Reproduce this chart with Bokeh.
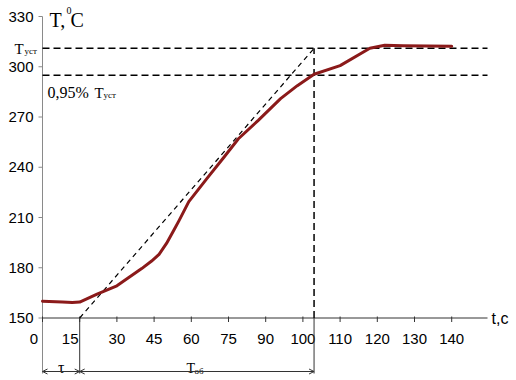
import numpy as np
from bokeh.plotting import figure
from bokeh.models import Range1d, Arrow, OpenHead, ColumnDataSource
from bokeh.core.properties import value
from bokeh.embed import file_html
from bokeh.resources import INLINE

# ---------------- data ----------------
tick_t = [0, 15, 30, 45, 60, 75, 90, 100, 110, 120, 130, 140]
tick_labels = ["0", "15", "30", "45", "60", "75", "90", "100", "110", "120", "130", "140"]
y_ticks = [150, 180, 210, 240, 270, 300, 330]

curve_t = [0, 8, 12, 15, 22, 30, 40, 44, 47, 50, 53, 55, 59, 66.5, 73, 79, 87, 94, 98.5,
           103, 110, 118, 122, 127, 140]
curve_T = [160, 159.6, 159.2, 159.5, 164.3, 169.2, 179.5, 184, 188, 194.5, 202.5, 208, 219.5,
           233.7, 245.7, 257, 268, 281, 288.7, 295.5, 300.7, 311, 312.8, 312.6, 312.2]

T_ust = 311
T_95 = 295
t_tau = 15
t_ob = 103

# ---------------- layout helpers ----------------
X0, DX = 42.0, 37.2          # page px of first category, px per category
Y0, KY = 16.0, 1.675         # page px of 330, px per degree
W, H = 516, 380


def px_x(px):
    return (px - X0) / DX


def px_y(py):
    return 330 - (py - Y0) / KY


def pos(t):
    return np.interp(t, tick_t, np.arange(len(tick_t)))


p = figure(width=W, height=H, output_backend="svg", toolbar_location=None,
           x_range=Range1d(px_x(0), px_x(W)), y_range=Range1d(px_y(H), px_y(0)),
           x_axis_location=None, y_axis_location=None, min_border=0)
p.outline_line_color = None
p.grid.visible = False
p.background_fill_color = "white"

sans = value("Liberation Sans")
serif = value("Liberation Serif")
y_bot = px_y(373)
x_end = px_x(487)

# y axis
p.segment(x0=[0], y0=[y_bot], x1=[0], y1=[330], line_color="#8a8a8a", line_width=1)
p.segment(x0=[-4 / DX] * len(y_ticks), y0=y_ticks, x1=[0] * len(y_ticks), y1=y_ticks,
          line_color="#8a8a8a", line_width=1)
p.text(x=[0] * len(y_ticks), y=y_ticks, text=[str(v) for v in y_ticks], x_offset=-9,
       text_align="right", text_baseline="middle", text_font=sans, text_font_size="15px",
       text_color="black")

# x axis
p.segment(x0=[0], y0=[150], x1=[x_end], y1=[150], line_color="#333333", line_width=1)
tp = pos(tick_t)
p.segment(x0=tp, y0=[150 + 1.5 / KY] * len(tp), x1=tp, y1=[150 - 4 / KY] * len(tp),
          line_color="#333333", line_width=1)
lab_src = ColumnDataSource(dict(x=tp, y=[150] * len(tp), text=tick_labels,
                                dx=[-8.5, -9.5] + [0] * (len(tp) - 2)))
p.text(x="x", y="y", text="text", x_offset="dx", y_offset=21, source=lab_src,
       text_align="center", text_baseline="middle", text_font=sans, text_font_size="15px",
       text_color="black")
p.text(x=[x_end], y=[150], text=["t,c"], x_offset=4, text_align="left",
       text_baseline="middle", text_font=sans, text_font_size="16px", text_color="black")

# reference dashed lines
p.segment(x0=[0, 0], y0=[T_ust, T_95], x1=[x_end, x_end], y1=[T_ust, T_95],
          line_color="black", line_width=1.5, line_dash="7 4")
p.segment(x0=[pos(t_ob)], y0=[150], x1=[pos(t_ob)], y1=[T_ust],
          line_color="black", line_width=1.5, line_dash="7 4")
# tangent
p.segment(x0=[pos(t_tau)], y0=[150], x1=[pos(t_ob)], y1=[T_ust],
          line_color="black", line_width=1.2, line_dash="5 4")
# solid verticals below axis
p.segment(x0=[pos(t_tau), pos(t_ob)], y0=[150, 150], x1=[pos(t_tau), pos(t_ob)],
          y1=[y_bot, y_bot], line_color="#333333", line_width=1)

# curve
p.line(pos(curve_t), curve_T, line_color="#8b1a1a", line_width=3, line_join="round",
       line_cap="round")

# dimension arrows
ya = px_y(371)
for xs, xe in [(0, pos(t_tau)), (pos(t_tau), pos(t_ob))]:
    p.add_layout(Arrow(x_start=xs, y_start=ya, x_end=xe, y_end=ya, line_width=1,
                       line_color="#333333",
                       start=OpenHead(size=5, line_width=1, line_color="#333333"),
                       end=OpenHead(size=5, line_width=1, line_color="#333333")))


# texts
def txt(x, y, s, size, font=serif, align="left", baseline="alphabetic"):
    p.text(x=[x], y=[y], text=[s], text_font=font, text_font_size=size, text_align=align,
           text_baseline=baseline, text_color="black")


txt(px_x(49), px_y(19), "T,", "20px")
txt(px_x(66), px_y(10), "0", "10px")
txt(px_x(70), px_y(19), "C", "20px")

txt(px_x(14), px_y(48), "T", "15px")
txt(px_x(24), px_y(50), "уст", "9px")

txt(px_x(47), px_y(92), "0,95%", "16px")
txt(px_x(94), px_y(92), "T", "15px")
txt(px_x(103), px_y(94), "уст", "9px")

txt((0 + pos(t_tau)) / 2, px_y(367), "τ", "16px", align="center")
txt(px_x(186), px_y(368), "T", "14px")
txt(px_x(194), px_y(370), "об", "9px")

open("out.html", "w").write(file_html(p, INLINE))
